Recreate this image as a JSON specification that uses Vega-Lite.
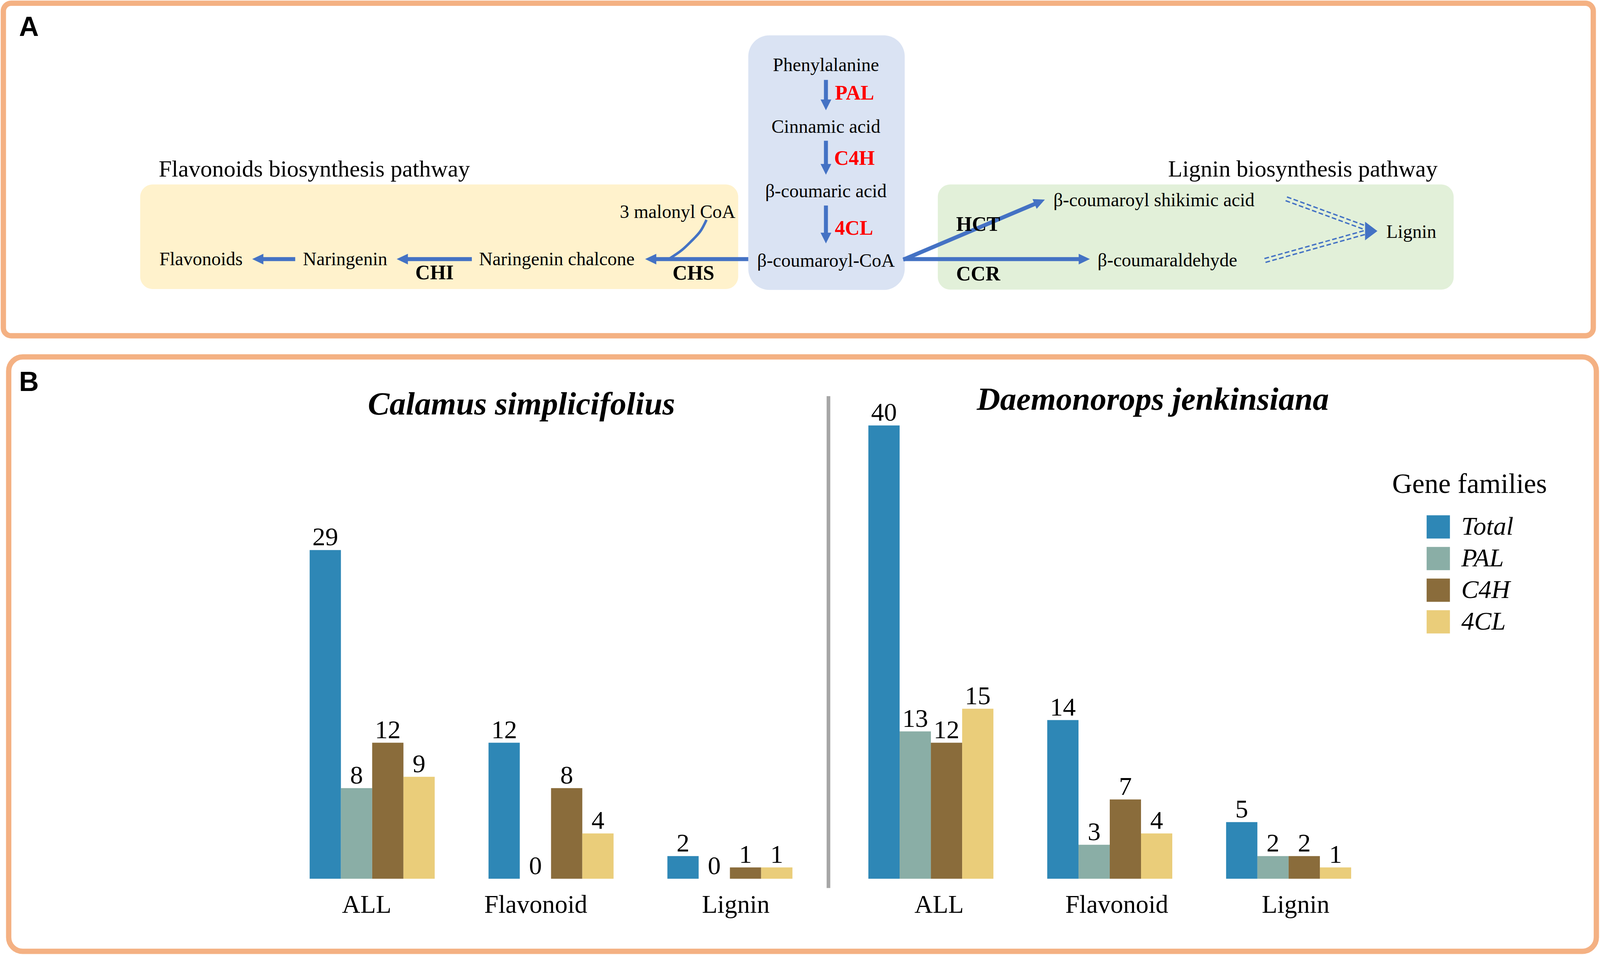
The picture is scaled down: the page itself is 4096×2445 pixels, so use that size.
{
  "$schema": "https://vega.github.io/schema/vega-lite/v6.json",
  "width": 4096,
  "height": 2445,
  "autosize": {"type": "fit", "contains": "padding"},
  "padding": 0,
  "background": "white",
  "config": {"view": {"stroke": null}, "text": {"font": "Liberation Serif"}},
  "datasets": {
    "bars": [
      {"species": "C", "cat": "ALL", "family": "Total", "value": 29},
      {"species": "C", "cat": "ALL", "family": "PAL", "value": 8},
      {"species": "C", "cat": "ALL", "family": "C4H", "value": 12},
      {"species": "C", "cat": "ALL", "family": "4CL", "value": 9},
      {"species": "C", "cat": "Flavonoid", "family": "Total", "value": 12},
      {"species": "C", "cat": "Flavonoid", "family": "PAL", "value": 0},
      {"species": "C", "cat": "Flavonoid", "family": "C4H", "value": 8},
      {"species": "C", "cat": "Flavonoid", "family": "4CL", "value": 4},
      {"species": "C", "cat": "Lignin", "family": "Total", "value": 2},
      {"species": "C", "cat": "Lignin", "family": "PAL", "value": 0},
      {"species": "C", "cat": "Lignin", "family": "C4H", "value": 1},
      {"species": "C", "cat": "Lignin", "family": "4CL", "value": 1},
      {"species": "D", "cat": "ALL", "family": "Total", "value": 40},
      {"species": "D", "cat": "ALL", "family": "PAL", "value": 13},
      {"species": "D", "cat": "ALL", "family": "C4H", "value": 12},
      {"species": "D", "cat": "ALL", "family": "4CL", "value": 15},
      {"species": "D", "cat": "Flavonoid", "family": "Total", "value": 14},
      {"species": "D", "cat": "Flavonoid", "family": "PAL", "value": 3},
      {"species": "D", "cat": "Flavonoid", "family": "C4H", "value": 7},
      {"species": "D", "cat": "Flavonoid", "family": "4CL", "value": 4},
      {"species": "D", "cat": "Lignin", "family": "Total", "value": 5},
      {"species": "D", "cat": "Lignin", "family": "PAL", "value": 2},
      {"species": "D", "cat": "Lignin", "family": "C4H", "value": 2},
      {"species": "D", "cat": "Lignin", "family": "4CL", "value": 1}
    ]
  },
  "layer": [
    {
      "encoding": {
        "x": {"field": "x", "type": "quantitative", "scale": {"domain": [0, 5707], "nice": false, "zero": false}, "axis": null},
        "y": {"field": "y", "type": "quantitative", "scale": {"domain": [0, 3406], "reverse": true, "nice": false, "zero": false}, "axis": null}
      },
      "layer": [
        {
          "data": {"values": [{"x": 12, "x2": 5683, "y": 11.5, "y2": 1197.5}]},
          "mark": {"type": "rect", "fillOpacity": 0, "stroke": "#F4B183", "strokeWidth": 13.6, "cornerRadius": 20},
          "encoding": {"x2": {"field": "x2"}, "y2": {"field": "y2"}}
        },
        {
          "data": {"values": [{"x": 31, "x2": 5694, "y": 1273, "y2": 3393}]},
          "mark": {"type": "rect", "fillOpacity": 0, "stroke": "#F4B183", "strokeWidth": 13.6, "cornerRadius": 36},
          "encoding": {"x2": {"field": "x2"}, "y2": {"field": "y2"}}
        },
        {
          "data": {"values": [{"x": 500, "x2": 2633, "y": 658, "y2": 1031}]},
          "mark": {"type": "rect", "fill": "#FFF2CC", "cornerRadius": 32},
          "encoding": {"x2": {"field": "x2"}, "y2": {"field": "y2"}}
        },
        {
          "data": {"values": [{"x": 3345, "x2": 5185, "y": 658, "y2": 1033}]},
          "mark": {"type": "rect", "fill": "#E2F0D9", "cornerRadius": 32},
          "encoding": {"x2": {"field": "x2"}, "y2": {"field": "y2"}}
        },
        {
          "data": {"values": [{"x": 2669, "x2": 3227, "y": 126, "y2": 1034}]},
          "mark": {"type": "rect", "fill": "#DAE3F3", "cornerRadius": 54},
          "encoding": {"x2": {"field": "x2"}, "y2": {"field": "y2"}}
        },
        {
          "data": {"values": [
            {"x": 935, "y": 924, "x2": 1053, "y2": 924},
            {"x": 1450, "y": 924, "x2": 1683, "y2": 924},
            {"x": 2335, "y": 924, "x2": 2669, "y2": 924},
            {"x": 3222, "y": 924, "x2": 3852, "y2": 924},
            {"x": 3222, "y": 926, "x2": 3693, "y2": 726.4},
            {"x": 2946, "y": 285, "x2": 2946, "y2": 358},
            {"x": 2946, "y": 502, "x2": 2946, "y2": 588},
            {"x": 2946, "y": 733, "x2": 2946, "y2": 833}
          ]},
          "mark": {"type": "rule", "color": "#4472C4", "strokeWidth": 10.2},
          "encoding": {"x2": {"field": "x2"}, "y2": {"field": "y2"}}
        },
        {
          "data": {"values": [
            {"x": 4590.4, "y": 702.4, "x2": 4871.4, "y2": 805.4},
            {"x": 4585.6, "y": 715.6, "x2": 4866.6, "y2": 818.6},
            {"x": 4510.1, "y": 922.3, "x2": 4867.1, "y2": 822.3},
            {"x": 4513.9, "y": 935.7, "x2": 4870.9, "y2": 835.7}
          ]},
          "mark": {"type": "rule", "color": "#4472C4", "strokeWidth": 3.6, "strokeDash": [12, 6]},
          "encoding": {"x2": {"field": "x2"}, "y2": {"field": "y2"}}
        },
        {
          "data": {"values": [
            {"i": 0, "x": 2520, "y": 784},
            {"i": 1, "x": 2498, "y": 825},
            {"i": 2, "x": 2468, "y": 858},
            {"i": 3, "x": 2432, "y": 892},
            {"i": 4, "x": 2390, "y": 921}
          ]},
          "mark": {"type": "line", "color": "#4472C4", "strokeWidth": 6.5, "interpolate": "natural"},
          "encoding": {"order": {"field": "i", "type": "quantitative"}}
        },
        {
          "data": {"values": [{"x": 919.5, "y": 924}, {"x": 1435, "y": 924}, {"x": 2321, "y": 924}]},
          "mark": {"type": "point", "shape": "M1,0L-1,-0.95L-1,0.95Z", "filled": true, "opacity": 1, "color": "#4472C4", "size": 820, "angle": 180, "strokeWidth": 0}
        },
        {
          "data": {"values": [{"x": 3867.5, "y": 924}]},
          "mark": {"type": "point", "shape": "M1,0L-1,-0.95L-1,0.95Z", "filled": true, "opacity": 1, "color": "#4472C4", "size": 820, "angle": 0, "strokeWidth": 0}
        },
        {
          "data": {"values": [{"x": 2946, "y": 374}, {"x": 2946, "y": 604}, {"x": 2946, "y": 849}]},
          "mark": {"type": "point", "shape": "M1,0L-1,-1L-1,1Z", "filled": true, "opacity": 1, "color": "#4472C4", "size": 760, "angle": 90, "strokeWidth": 0}
        },
        {
          "data": {"values": [{"x": 3708.6, "y": 719.8}]},
          "mark": {"type": "point", "shape": "M1,0L-1,-0.95L-1,0.95Z", "filled": true, "opacity": 1, "color": "#4472C4", "size": 820, "angle": -23, "strokeWidth": 0}
        },
        {
          "data": {"values": [{"x": 4891, "y": 824}]},
          "mark": {"type": "point", "shape": "M1,0L-1,-1.5L-1,1.5Z", "filled": true, "opacity": 1, "color": "#4472C4", "size": 1000, "angle": 0, "strokeWidth": 0}
        },
        {
          "data": {"values": [{"x": 2955, "y": 1413, "x2": 2955, "y2": 3167}]},
          "mark": {"type": "rule", "color": "#A6A6A6", "strokeWidth": 9.3},
          "encoding": {"x2": {"field": "x2"}, "y2": {"field": "y2"}}
        },
        {
          "data": {"values": [
            {"t": "Phenylalanine", "x": 2946, "y": 253},
            {"t": "Cinnamic acid", "x": 2946, "y": 473},
            {"t": "β-coumaric acid", "x": 2946, "y": 703},
            {"t": "β-coumaroyl-CoA", "x": 2946, "y": 951},
            {"t": "3 malonyl CoA", "x": 2417, "y": 777},
            {"t": "Flavonoids", "x": 717, "y": 946},
            {"t": "Naringenin", "x": 1231, "y": 946},
            {"t": "Naringenin chalcone", "x": 1986, "y": 946},
            {"t": "β-coumaroyl shikimic acid", "x": 4116, "y": 736},
            {"t": "β-coumaraldehyde", "x": 4164, "y": 950},
            {"t": "Lignin", "x": 5034, "y": 848}
          ]},
          "mark": {"type": "text", "font": "Liberation Serif", "fontSize": 48, "align": "center", "baseline": "alphabetic", "color": "black"},
          "encoding": {"text": {"field": "t"}}
        },
        {
          "data": {"values": [
            {"t": "Flavonoids biosynthesis pathway", "x": 1121, "y": 630},
            {"t": "Lignin biosynthesis pathway", "x": 4647, "y": 630}
          ]},
          "mark": {"type": "text", "font": "Liberation Serif", "fontSize": 60, "align": "center", "baseline": "alphabetic", "color": "black"},
          "encoding": {"text": {"field": "t"}}
        },
        {
          "data": {"values": [
            {"t": "PAL", "x": 3048, "y": 355},
            {"t": "C4H", "x": 3047.5, "y": 588},
            {"t": "4CL", "x": 3046, "y": 837}
          ]},
          "mark": {"type": "text", "font": "Liberation Serif", "fontSize": 52, "fontWeight": "bold", "align": "center", "baseline": "alphabetic", "color": "#FF0000"},
          "encoding": {"text": {"field": "t"}}
        },
        {
          "data": {"values": [
            {"t": "CHI", "x": 1550, "y": 996},
            {"t": "CHS", "x": 2473.5, "y": 998},
            {"t": "HCT", "x": 3489, "y": 823},
            {"t": "CCR", "x": 3489, "y": 1000}
          ]},
          "mark": {"type": "text", "font": "Liberation Serif", "fontSize": 52, "fontWeight": "bold", "align": "center", "baseline": "alphabetic", "color": "black"},
          "encoding": {"text": {"field": "t"}}
        },
        {
          "data": {"values": [
            {"t": "A", "x": 68, "y": 128},
            {"t": "B", "x": 68, "y": 1395}
          ]},
          "mark": {"type": "text", "font": "Liberation Sans", "fontSize": 70, "fontWeight": "bold", "align": "left", "baseline": "alphabetic", "color": "black"},
          "encoding": {"text": {"field": "t"}}
        },
        {
          "data": {"values": [
            {"t": "Calamus simplicifolius", "x": 1860, "y": 1478},
            {"t": "Daemonorops jenkinsiana", "x": 4112, "y": 1461}
          ]},
          "mark": {"type": "text", "font": "Liberation Serif", "fontSize": 83, "fontWeight": "bold", "fontStyle": "italic", "align": "center", "baseline": "alphabetic", "color": "black"},
          "encoding": {"text": {"field": "t"}}
        }
      ]
    },
    {
      "data": {"name": "bars"},
      "transform": [{"filter": "datum.species == 'C'"}],
      "encoding": {
        "x": {
          "field": "cat", "type": "nominal",
          "scale": {"domain": ["c0", "ALL", "Flavonoid", "Lignin", "c1", "c2", "c3", "c4"], "paddingInner": 0.30094, "paddingOuter": 0.62304, "align": 0.5868, "round": false},
          "axis": {"orient": "bottom", "offset": -108.4, "zindex": 1, "title": null, "domain": false, "ticks": false, "tickSize": 0, "labelPadding": 0, "labelBaseline": "alphabetic", "labelFont": "Liberation Serif", "labelFontSize": 65, "labelColor": "black", "labelAngle": 0, "grid": false, "labelOverlap": false, "labelLimit": 1000,
                   "labelExpr": "datum.value == 'ALL' || datum.value == 'Flavonoid' || datum.value == 'Lignin' ? datum.value : ''",
                   "labelOffset": {"condition": [{"test": "datum.value === 'ALL'", "value": -14}, {"test": "datum.value === 'Flavonoid'", "value": -39}], "value": 15}}
        },
        "xOffset": {"field": "family", "type": "nominal", "scale": {"domain": ["Total", "PAL", "C4H", "4CL"], "paddingInner": 0, "paddingOuter": 0}},
        "y": {"field": "value", "type": "quantitative", "scale": {"domain": [-6.729, 77.54], "nice": false, "zero": false}, "axis": null}
      },
      "layer": [
        {
          "mark": {"type": "bar"},
          "encoding": {
            "y2": {"datum": 0},
            "color": {
              "field": "family", "type": "nominal",
              "scale": {"domain": ["Total", "PAL", "C4H", "4CL"], "range": ["#2E87B6", "#8AAEA6", "#8A6C3B", "#EACD7A"]},
              "legend": {"orient": "none", "legendX": 3564, "legendY": 1206, "title": "Gene families", "titleFont": "Liberation Serif", "titleFontSize": 71, "titleFontWeight": "normal", "titleColor": "black", "titlePadding": 39, "titleLimit": 2000, "labelLimit": 2000, "labelFont": "Liberation Serif", "labelFontStyle": "italic", "labelFontSize": 66, "labelColor": "black", "symbolType": "square", "symbolSize": 3552, "symbolStrokeWidth": 0, "symbolOpacity": 1, "symbolOffset": 85, "labelOffset": 26, "rowPadding": 15, "padding": 0}
            }
          }
        },
        {
          "mark": {"type": "text", "font": "Liberation Serif", "fontSize": 66, "baseline": "alphabetic", "align": "center", "dy": -12, "color": "black"},
          "encoding": {"text": {"field": "value", "type": "quantitative", "format": "d"}}
        }
      ]
    },
    {
      "data": {"name": "bars"},
      "transform": [{"filter": "datum.species == 'D'"}],
      "encoding": {
        "x": {
          "field": "cat", "type": "nominal",
          "scale": {"domain": ["d0", "d1", "d2", "d3", "ALL", "Flavonoid", "Lignin", "d4"], "paddingInner": 0.30094, "paddingOuter": 0.62304, "align": 0.686, "round": false},
          "axis": {"orient": "bottom", "offset": -108.4, "zindex": 1, "title": null, "domain": false, "ticks": false, "tickSize": 0, "labelPadding": 0, "labelBaseline": "alphabetic", "labelFont": "Liberation Serif", "labelFontSize": 65, "labelColor": "black", "labelAngle": 0, "grid": false, "labelOverlap": false, "labelLimit": 1000,
                   "labelExpr": "datum.value == 'ALL' || datum.value == 'Flavonoid' || datum.value == 'Lignin' ? datum.value : ''",
                   "labelOffset": {"condition": {"test": "datum.value === 'ALL'", "value": 21}, "value": 18}}
        },
        "xOffset": {"field": "family", "type": "nominal", "scale": {"domain": ["Total", "PAL", "C4H", "4CL"], "paddingInner": 0, "paddingOuter": 0}},
        "y": {"field": "value", "type": "quantitative", "scale": {"domain": [-6.729, 77.54], "nice": false, "zero": false}, "axis": null}
      },
      "layer": [
        {
          "mark": {"type": "bar"},
          "encoding": {
            "y2": {"datum": 0},
            "color": {
              "field": "family", "type": "nominal",
              "scale": {"domain": ["Total", "PAL", "C4H", "4CL"], "range": ["#2E87B6", "#8AAEA6", "#8A6C3B", "#EACD7A"]},
              "legend": {"orient": "none", "legendX": 3564, "legendY": 1206, "title": "Gene families", "titleFont": "Liberation Serif", "titleFontSize": 71, "titleFontWeight": "normal", "titleColor": "black", "titlePadding": 39, "titleLimit": 2000, "labelLimit": 2000, "labelFont": "Liberation Serif", "labelFontStyle": "italic", "labelFontSize": 66, "labelColor": "black", "symbolType": "square", "symbolSize": 3552, "symbolStrokeWidth": 0, "symbolOpacity": 1, "symbolOffset": 85, "labelOffset": 26, "rowPadding": 15, "padding": 0}
            }
          }
        },
        {
          "mark": {"type": "text", "font": "Liberation Serif", "fontSize": 66, "baseline": "alphabetic", "align": "center", "dy": -12, "color": "black"},
          "encoding": {"text": {"field": "value", "type": "quantitative", "format": "d"}}
        }
      ]
    }
  ],
  "resolve": {"scale": {"x": "independent", "y": "independent", "xOffset": "independent"}}
}
